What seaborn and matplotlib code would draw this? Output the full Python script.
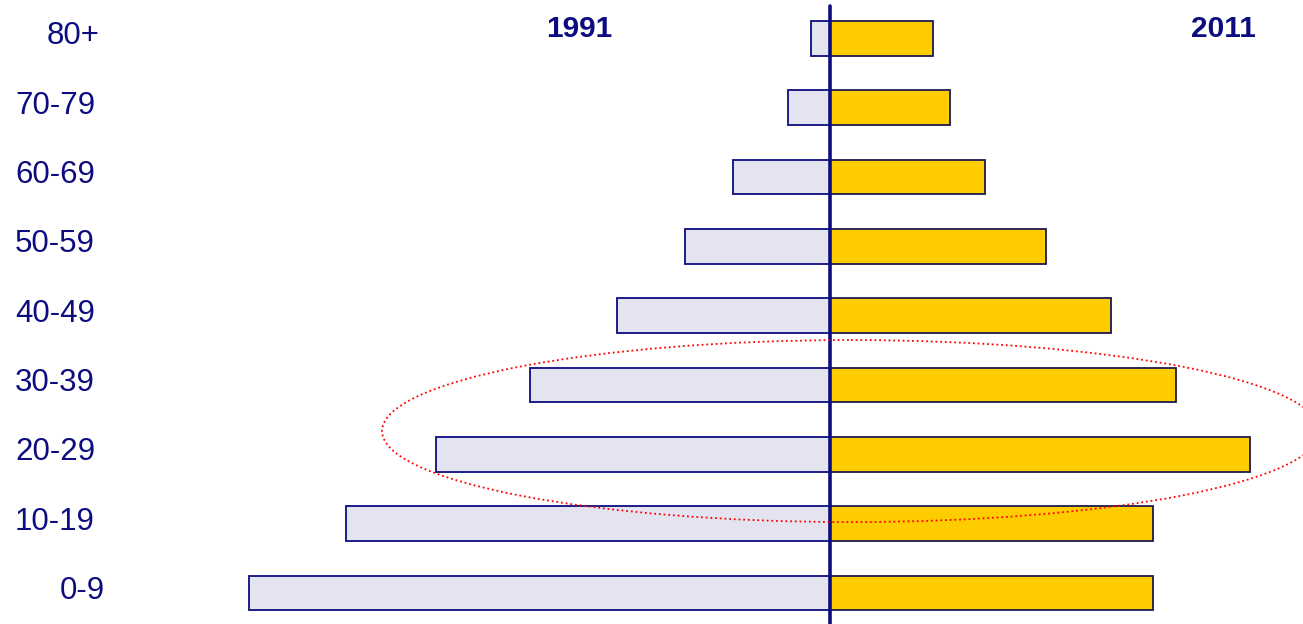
import matplotlib
matplotlib.use("Agg")
import matplotlib.pyplot as plt
from matplotlib.patches import Ellipse
import seaborn as sns
import pandas as pd

ages = ["80+", "70-79", "60-69", "50-59", "40-49", "30-39", "20-29", "10-19", "0-9"]
pop_1991 = [0.6, 1.3, 3.0, 4.5, 6.6, 9.3, 12.2, 15.0, 18.0]
pop_2011 = [3.2, 3.7, 4.8, 6.7, 8.7, 10.7, 13.0, 10.0, 10.0]
year_labels = ["1991", "2011"]

df = pd.DataFrame({"age": ages,
                   "left": [-v for v in pop_1991],
                   "right": pop_2011})

sns.set_theme(style="white")
plt.rcParams["font.family"] = ["Liberation Sans", "DejaVu Sans"]

navy = "#0c0c80"
fig = plt.figure(figsize=(13.03, 6.24), dpi=100)
ax = fig.add_axes([0, 0, 1, 1])

sns.barplot(data=df, x="left", y="age", order=ages, orient="h", width=0.5,
            color="#e4e4f0", saturation=1, edgecolor=navy, linewidth=1.3, ax=ax)
sns.barplot(data=df, x="right", y="age", order=ages, orient="h", width=0.5,
            color="#ffcc00", saturation=1, edgecolor="#1a1a50", linewidth=1.3, ax=ax)

px = 32.3    # pixels per x unit
py = 69.3    # pixels per category step
ax.set_xlim(-830 / px, 473 / px)
ax.set_ylim(8 + 31 / py, -38.5 / py)

ax.axvline(0, ymin=0, ymax=1 - 6 / 624, color=navy, lw=2.6, zorder=5)

ell = Ellipse((21 / px, (431 - 38.5) / py), width=938 / px,
              height=182 / py, fill=False, edgecolor="red", linestyle=(0, (1, 1.6)),
              lw=1.3, zorder=6)
ax.add_patch(ell)

# left edge (pixels) of each age label
label_left_px = {"80+": 47, "0-9": 60}
for i, a in enumerate(ages):
    xl = label_left_px.get(a, 15)
    ax.text((xl - 830) / px, i - 0.03, a, ha="left", va="center",
            fontsize=22.5, color=navy)

ax.text(-251 / px, -0.13, year_labels[0], ha="center", va="center",
        fontsize=21.5, fontweight="bold", color=navy)
ax.text(393 / px, -0.13, year_labels[1], ha="center", va="center",
        fontsize=21.5, fontweight="bold", color=navy)

ax.set_xlabel("")
ax.set_ylabel("")
ax.set_xticks([])
ax.set_yticks([])
for s in ax.spines.values():
    s.set_visible(False)

fig.savefig("out.png", dpi=100, facecolor="white")
